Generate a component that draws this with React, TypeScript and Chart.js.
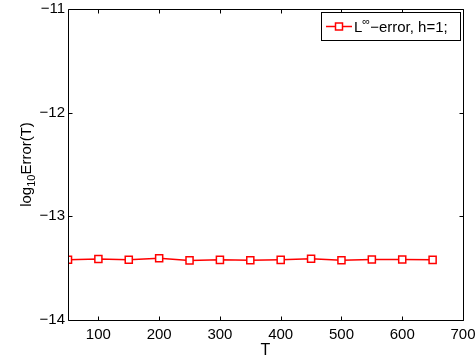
import React, { useEffect, useRef } from 'react';
import { Chart, registerables } from 'chart.js';

Chart.register(...registerables);

const timeSteps = [50, 100, 150, 200, 250, 300, 350, 400, 450, 500, 550, 600, 650];
const errorLog = [-13.418, -13.412, -13.418, -13.405, -13.425, -13.42, -13.424, -13.42, -13.41, -13.424, -13.416, -13.416, -13.42];
const xTickValues = [100, 200, 300, 400, 500, 600, 700];
const yTickValues = [-14, -13, -12, -11];
const legendLabel = ['L', '∞', '−error, h=1;'];
const xTitle = 'T';
const yTitle = ['log', '10', 'Error(T)'];

const FONT = '"Liberation Sans", Arial, Helvetica, sans-serif';

const decorPlugin = {
  id: 'decor',
  afterDraw(chart: any) {
    const ctx = chart.ctx as CanvasRenderingContext2D;
    const { left, right, top, bottom } = chart.chartArea;
    const xs = chart.scales.x;
    const ys = chart.scales.y;
    ctx.save();
    ctx.strokeStyle = '#000';
    ctx.lineWidth = 1;
    const L = Math.round(left) + 0.5;
    const R = Math.round(right) + 0.5;
    const T = Math.round(top) + 0.5;
    const B = Math.round(bottom) + 0.5;
    ctx.beginPath();
    ctx.rect(L, T, R - L, B - T);
    ctx.stroke();
    const tl = 4;
    ctx.beginPath();
    xTickValues.forEach((v) => {
      const px = Math.round(xs.getPixelForValue(v)) + 0.5;
      ctx.moveTo(px, B);
      ctx.lineTo(px, B - tl);
      ctx.moveTo(px, T);
      ctx.lineTo(px, T + tl);
    });
    yTickValues.forEach((v) => {
      const py = Math.round(ys.getPixelForValue(v)) + 0.5;
      ctx.moveTo(L, py);
      ctx.lineTo(L + tl, py);
      ctx.moveTo(R, py);
      ctx.lineTo(R - tl, py);
    });
    ctx.stroke();

    // x title
    ctx.fillStyle = '#000';
    ctx.font = `16px ${FONT}`;
    ctx.textAlign = 'center';
    ctx.textBaseline = 'alphabetic';
    ctx.fillText(xTitle, (left + right) / 2, 355);

    // y title with subscript
    ctx.save();
    ctx.translate(31, 0);
    ctx.rotate(-Math.PI / 2);
    const big = `15px ${FONT}`;
    const small = `11px ${FONT}`;
    ctx.font = big;
    const w0 = ctx.measureText(yTitle[0]).width;
    const w2 = ctx.measureText(yTitle[2]).width;
    ctx.font = small;
    const w1 = ctx.measureText(yTitle[1]).width;
    const total = w0 + w1 + w2;
    const cy = (top + bottom) / 2;
    let sx = -cy - total / 2;
    ctx.textAlign = 'left';
    ctx.font = big;
    ctx.fillText(yTitle[0], sx, 0);
    sx += w0;
    ctx.font = small;
    ctx.fillText(yTitle[1], sx, 4);
    sx += w1;
    ctx.font = big;
    ctx.fillText(yTitle[2], sx, 0);
    ctx.restore();

    // legend
    const bx = 321.5, by = 12.5, bw = 139, bh = 28;
    ctx.fillStyle = '#fff';
    ctx.fillRect(bx, by, bw, bh);
    ctx.strokeStyle = '#000';
    ctx.lineWidth = 1;
    ctx.strokeRect(bx, by, bw, bh);
    const ly = 26.5;
    ctx.strokeStyle = '#ff0000';
    ctx.lineWidth = 1.5;
    ctx.beginPath();
    ctx.moveTo(326, ly);
    ctx.lineTo(352, ly);
    ctx.stroke();
    ctx.fillStyle = '#fff';
    ctx.fillRect(335.5, ly - 3.5, 7, 7);
    ctx.strokeRect(335.5, ly - 3.5, 7, 7);
    ctx.fillStyle = '#000';
    ctx.textBaseline = 'alphabetic';
    ctx.textAlign = 'left';
    let tx = 354;
    const base = 32;
    ctx.font = big;
    ctx.fillText(legendLabel[0], tx, base);
    tx += ctx.measureText(legendLabel[0]).width;
    ctx.font = small;
    ctx.fillText(legendLabel[1], tx, base - 7);
    tx += ctx.measureText(legendLabel[1]).width;
    ctx.font = big;
    ctx.fillText(legendLabel[2], tx, base);
    ctx.restore();
  },
};

export default function App() {
  const ref = useRef<HTMLCanvasElement>(null);
  useEffect(() => {
    document.body.style.margin = '0';
    const canvas = ref.current!;
    const chart = new Chart(canvas, {
      type: 'line',
      data: {
        datasets: [
          {
            label: 'L∞−error, h=1;',
            data: timeSteps.map((t, i) => ({ x: t, y: errorLog[i] })),
            borderColor: '#ff0000',
            backgroundColor: '#ffffff',
            borderWidth: 1.5,
            pointStyle: 'rect',
            pointRadius: 5,
            pointBorderWidth: 1.5,
            pointBorderColor: '#ff0000',
            pointBackgroundColor: '#ffffff',
            tension: 0,
            fill: false,
          },
        ],
      },
      options: {
        animation: false,
        responsive: false,
        maintainAspectRatio: false,
        devicePixelRatio: 1,
        layout: { padding: { top: 9, right: 13, left: 0, bottom: 0 } },
        plugins: { legend: { display: false }, tooltip: { enabled: false } },
        scales: {
          x: {
            type: 'linear',
            min: 50,
            max: 700,
            afterBuildTicks: (s: any) => {
              s.ticks = xTickValues.map((v) => ({ value: v }));
            },
            afterFit: (s: any) => {
              s.height = 42;
              s.paddingLeft = 0;
              s.paddingRight = 0;
            },
            grid: { display: false, drawTicks: false },
            border: { display: false },
            ticks: {
              color: '#000',
              font: { family: FONT, size: 15 },
              padding: 6,
              maxRotation: 0,
              autoSkip: false,
            },
          },
          y: {
            type: 'linear',
            min: -14,
            max: -11,
            afterBuildTicks: (s: any) => {
              s.ticks = yTickValues.map((v) => ({ value: v }));
            },
            afterFit: (s: any) => {
              s.width = 68;
              s.paddingTop = 0;
              s.paddingBottom = 0;
            },
            grid: { display: false, drawTicks: false },
            border: { display: false },
            ticks: {
              color: '#000',
              font: { family: FONT, size: 15 },
              padding: 3,
              callback: (v: any) => String(v).replace('-', '−'),
            },
          },
        },
      },
      plugins: [decorPlugin],
    });
    return () => chart.destroy();
  }, []);
  return (
    <div style={{ position: 'absolute', left: 0, top: 0, width: 476, height: 362, background: '#fff' }}>
      <canvas ref={ref} width={476} height={362} style={{ display: 'block', width: 476, height: 362 }} />
    </div>
  );
}
